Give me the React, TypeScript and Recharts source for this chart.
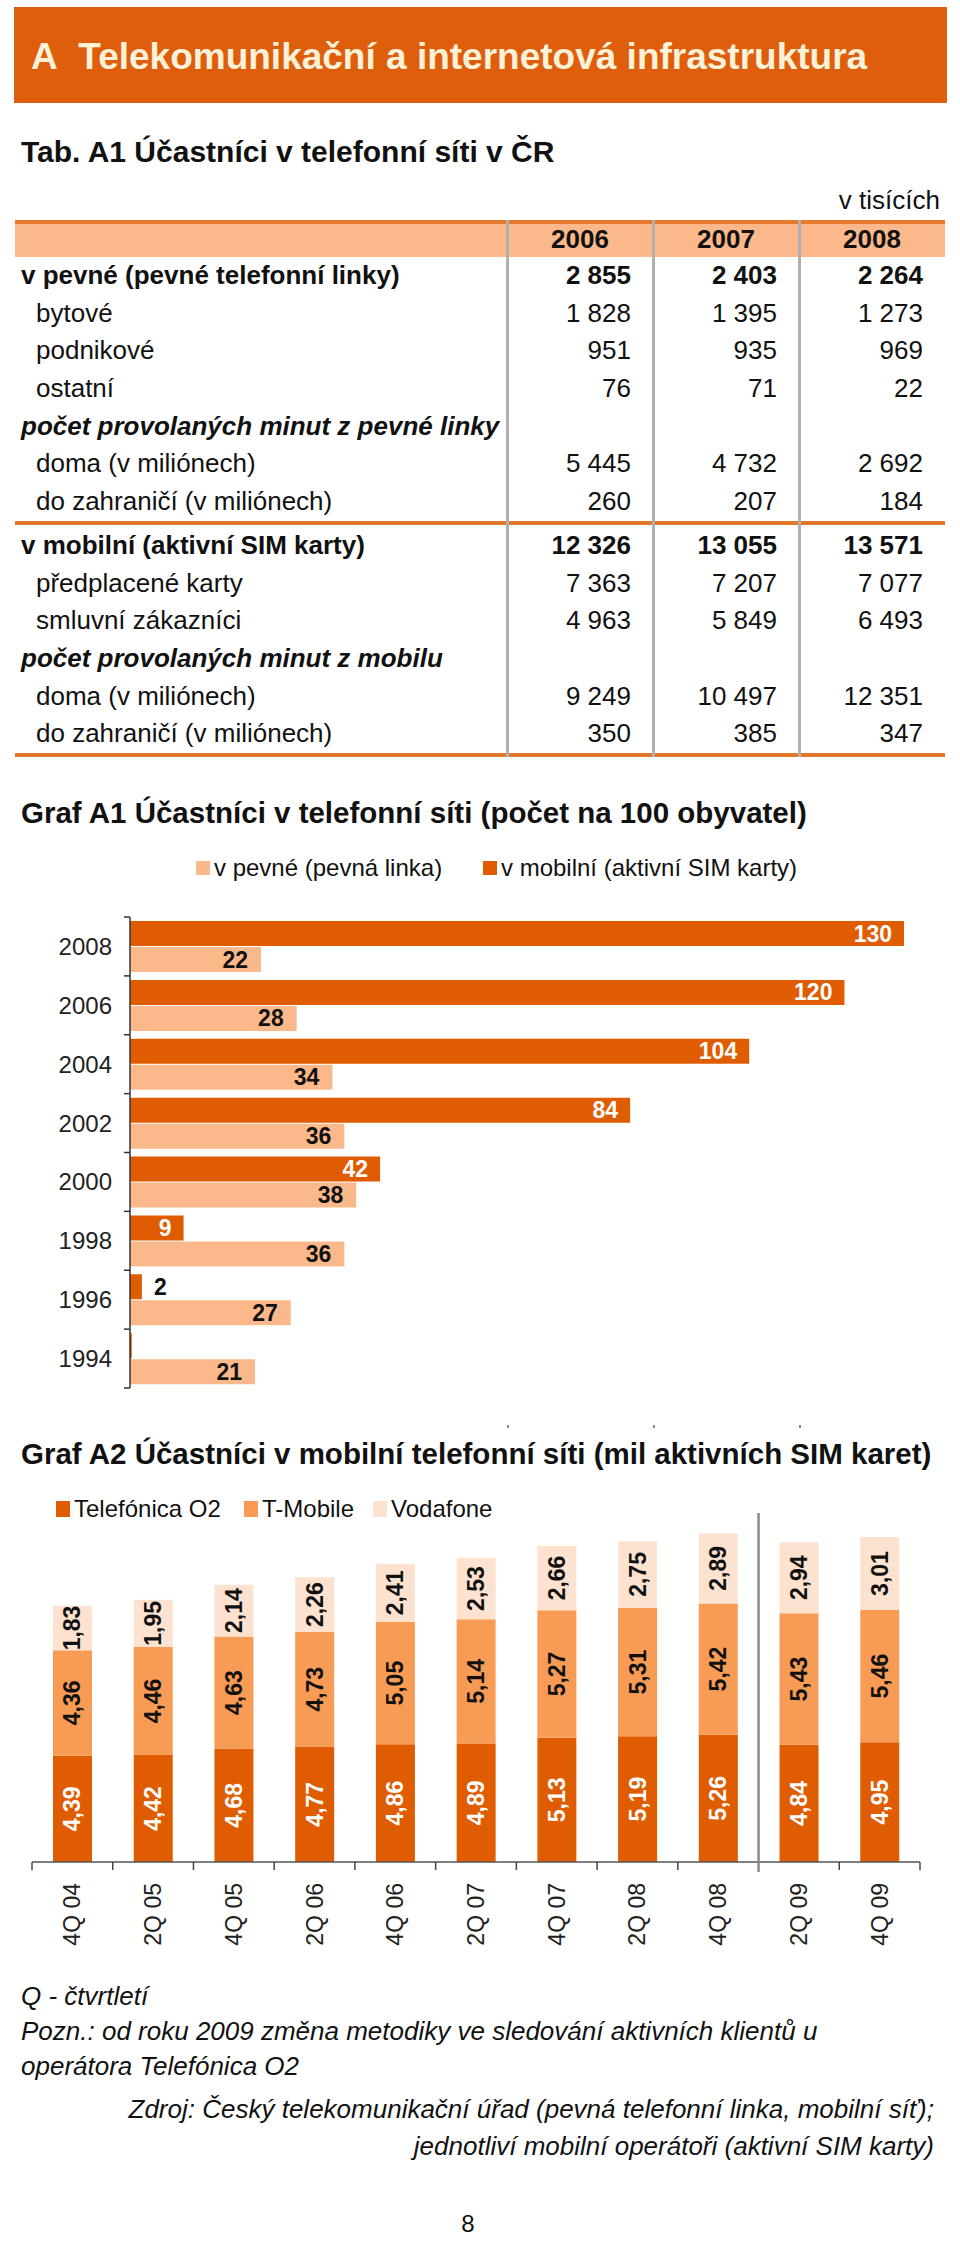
import React from "react";
import { Bar, BarChart, LabelList, XAxis, YAxis } from "recharts";

// Tab. A1 (v tisících)
const tableYears = ["2006", "2007", "2008"];
const fixedRowLabels = [
  "v pevné (pevné telefonní linky)",
  "bytové",
  "podnikové",
  "ostatní",
  "počet provolaných minut z pevné linky",
  "doma (v miliónech)",
  "do zahraničí (v miliónech)",
];
const fixedRowKinds = ["main", "sub", "sub", "sub", "group", "sub", "sub"];
const fixed2006 = ["2 855", "1 828", "951", "76", "", "5 445", "260"];
const fixed2007 = ["2 403", "1 395", "935", "71", "", "4 732", "207"];
const fixed2008 = ["2 264", "1 273", "969", "22", "", "2 692", "184"];

const mobileRowLabels = [
  "v mobilní (aktivní SIM karty)",
  "předplacené karty",
  "smluvní zákazníci",
  "počet provolaných minut z mobilu",
  "doma (v miliónech)",
  "do zahraničí (v miliónech)",
];
const mobileRowKinds = ["main", "sub", "sub", "group", "sub", "sub"];
const mobile2006 = ["12 326", "7 363", "4 963", "", "9 249", "350"];
const mobile2007 = ["13 055", "7 207", "5 849", "", "10 497", "385"];
const mobile2008 = ["13 571", "7 077", "6 493", "", "12 351", "347"];

// Graf A1 (počet na 100 obyvatel)
const a1Years = ["2008", "2006", "2004", "2002", "2000", "1998", "1996", "1994"];
const a1Mobile = [130, 120, 104, 84, 42, 9, 2, 0.3];
const a1Fixed = [22, 28, 34, 36, 38, 36, 27, 21];
const a1SeriesNames = ["v pevné (pevná linka)", "v mobilní (aktivní SIM karty)"];

// Graf A2 (mil aktivních SIM karet)
const a2Quarters = ["4Q 04", "2Q 05", "4Q 05", "2Q 06", "4Q 06", "2Q 07", "4Q 07", "2Q 08", "4Q 08", "2Q 09", "4Q 09"];
const a2O2 = [4.39, 4.42, 4.68, 4.77, 4.86, 4.89, 5.13, 5.19, 5.26, 4.84, 4.95];
const a2TMobile = [4.36, 4.46, 4.63, 4.73, 5.05, 5.14, 5.27, 5.31, 5.42, 5.43, 5.46];
const a2Vodafone = [1.83, 1.95, 2.14, 2.26, 2.41, 2.53, 2.66, 2.75, 2.89, 2.94, 3.01];
const a2SeriesNames = ["Telefónica O2", "T-Mobile", "Vodafone"];

const notes = [
  "Q - čtvrtletí",
  "Pozn.: od roku 2009 změna metodiky ve sledování aktivních klientů u",
  "operátora Telefónica O2",
];
const sources = [
  "Zdroj: Český telekomunikační úřad (pevná telefonní linka, mobilní síť);",
  "jednotliví mobilní operátoři (aktivní SIM karty)",
];

const DARK = "#e05c00";
const FIXED = "#fbb98b";
const TMOB = "#f89b55";
const VODA = "#fde2d0";
const FONT = "Arial, 'Liberation Sans', sans-serif";

const a1Data = a1Years.map((year, i) => ({ year, mobile: a1Mobile[i], fixed: a1Fixed[i] }));
const a2Data = a2Quarters.map((q, i) => ({ q, o2: a2O2[i], tmobile: a2TMobile[i], vodafone: a2Vodafone[i] }));

const fmt = (v: number) => v.toFixed(2).replace(".", ",");

type TxtProps = {
  x: number;
  y: number;
  size: number;
  bold?: boolean;
  italic?: boolean;
  align?: "left" | "right" | "center";
  color?: string;
  children: React.ReactNode;
};

function Txt({ x, y, size, bold, italic, align = "left", color = "#111", children }: TxtProps) {
  const style: React.CSSProperties = {
    position: "absolute",
    top: y,
    transform: align === "center" ? "translate(-50%, -50%)" : "translateY(-50%)",
    fontSize: size,
    fontWeight: bold ? 700 : 400,
    fontStyle: italic ? "italic" : "normal",
    color,
    whiteSpace: "nowrap",
    lineHeight: 1.15,
  };
  if (align === "right") style.right = 960 - x;
  else style.left = x;
  return <div style={style}>{children}</div>;
}

const colLeft = [507, 653, 799];
const colRight = [653, 799, 945];
const rowH = 37.7;

function TableSection({ top, labels, kinds, cols }: { top: number; labels: string[]; kinds: string[]; cols: string[][] }) {
  return (
    <>
      {labels.map((label, i) => {
        const cy = top + i * rowH + rowH / 2;
        const kind = kinds[i];
        return (
          <React.Fragment key={label + i}>
            <Txt x={kind === "sub" ? 36 : 21} y={cy} size={26} bold={kind !== "sub"} italic={kind === "group"}>
              {label}
            </Txt>
            {cols.map((col, c) =>
              col[i] ? (
                <Txt key={c} x={colRight[c] - 22} y={cy} size={26} bold={kind === "main"} align="right">
                  {col[i]}
                </Txt>
              ) : null
            )}
          </React.Fragment>
        );
      })}
    </>
  );
}

const a1Band = 471 / a1Years.length;

function A1Tick(props: any) {
  const { x, y, payload, index } = props;
  return (
    <g>
      <text x={x - 18} y={y} textAnchor="end" dominantBaseline="central" fontSize={24} fill="#222" fontFamily={FONT}>
        {payload.value}
      </text>
      <line x1={x - 6} x2={x} y1={y - a1Band / 2} y2={y - a1Band / 2} stroke="#333" strokeWidth={1.5} />
      {index === a1Years.length - 1 && (
        <line x1={x - 6} x2={x} y1={y + a1Band / 2} y2={y + a1Band / 2} stroke="#333" strokeWidth={1.5} />
      )}
    </g>
  );
}

function A1MobileLabel(props: any) {
  const { x, y, width, height, value } = props;
  if (value < 1) return null;
  const inside = value >= 5;
  return (
    <text
      x={inside ? x + width - 12 : x + width + 12}
      y={y + height / 2}
      textAnchor={inside ? "end" : "start"}
      dominantBaseline="central"
      fontSize={23}
      fontWeight={700}
      fill={inside ? "#fff" : "#111"}
      fontFamily={FONT}
    >
      {value}
    </text>
  );
}

function A1FixedLabel(props: any) {
  const { x, y, width, height, value } = props;
  return (
    <text x={x + width - 13} y={y + height / 2} textAnchor="end" dominantBaseline="central" fontSize={23} fontWeight={700} fill="#111" fontFamily={FONT}>
      {value}
    </text>
  );
}

const a2Band = 888 / a2Quarters.length;

function A2Tick(props: any) {
  const { x, y, payload, index } = props;
  return (
    <g>
      <text
        x={x}
        y={y + 21}
        transform={`rotate(-90 ${x} ${y + 21})`}
        textAnchor="end"
        dominantBaseline="central"
        fontSize={23}
        fill="#222"
        fontFamily={FONT}
      >
        {payload.value}
      </text>
      {index === 9 ? (
        <line x1={x - a2Band / 2} x2={x - a2Band / 2} y1={y - 349} y2={y + 10} stroke="#8a8a8a" strokeWidth={2.5} />
      ) : (
        <line x1={x - a2Band / 2} x2={x - a2Band / 2} y1={y} y2={y + 8} stroke="#444" strokeWidth={1.5} />
      )}
      {index === a2Quarters.length - 1 && (
        <line x1={x + a2Band / 2} x2={x + a2Band / 2} y1={y} y2={y + 8} stroke="#444" strokeWidth={1.5} />
      )}
    </g>
  );
}

const makeA2Label = (color: string) => (props: any) => {
  const { x, y, width, height, value } = props;
  const cx = x + width / 2;
  const cy = y + height / 2;
  return (
    <text
      x={cx}
      y={cy}
      transform={`rotate(-90 ${cx} ${cy})`}
      textAnchor="middle"
      dominantBaseline="central"
      fontSize={23}
      fontWeight={700}
      fill={color}
      fontFamily={FONT}
    >
      {fmt(value)}
    </text>
  );
};

function LegendItem({ x, y, color, label, w = 14, h = 14 }: { x: number; y: number; color: string; label: string; w?: number; h?: number }) {
  return (
    <>
      <div style={{ position: "absolute", left: x, top: y - h / 2, width: w, height: h, background: color }} />
      <Txt x={x + w + 4} y={y} size={24} color="#111">
        {label}
      </Txt>
    </>
  );
}

export default function App() {
  return (
    <div style={{ position: "absolute", left: 0, top: 0, width: 960, height: 2242, background: "#fff", fontFamily: FONT, overflow: "hidden" }}>
      {/* header band */}
      <div style={{ position: "absolute", left: 14, top: 7, width: 933, height: 96, background: "#df5e0e" }} />
      <Txt x={31} y={57} size={37} bold color="#fdf1d8">
        A&nbsp;&nbsp;Telekomunikační a internetová infrastruktura
      </Txt>

      {/* table */}
      <Txt x={21} y={152} size={30} bold>
        Tab. A1 Účastníci v telefonní síti v ČR
      </Txt>
      <Txt x={940} y={201} size={26} align="right">
        v tisících
      </Txt>
      <div style={{ position: "absolute", left: 15, top: 220, width: 930, height: 4, background: "#e77a2d" }} />
      <div style={{ position: "absolute", left: 15, top: 224, width: 930, height: 33, background: FIXED }} />
      {tableYears.map((yr, c) => (
        <Txt key={yr} x={(colLeft[c] + colRight[c]) / 2} y={240} size={26} bold align="center">
          {yr}
        </Txt>
      ))}
      <TableSection top={257} labels={fixedRowLabels} kinds={fixedRowKinds} cols={[fixed2006, fixed2007, fixed2008]} />
      <div style={{ position: "absolute", left: 15, top: 521, width: 930, height: 4, background: "#e2782a" }} />
      <TableSection top={527} labels={mobileRowLabels} kinds={mobileRowKinds} cols={[mobile2006, mobile2007, mobile2008]} />
      <div style={{ position: "absolute", left: 15, top: 753, width: 930, height: 4, background: "#e2782a" }} />
      {colLeft.map((x) => (
        <div key={x} style={{ position: "absolute", left: x - 1, top: 220, width: 3, height: 537, background: "#b0b0b0" }} />
      ))}

      {/* Graf A1 */}
      <Txt x={21} y={813} size={29.5} bold>
        Graf A1 Účastníci v telefonní síti (počet na 100 obyvatel)
      </Txt>
      <LegendItem x={196} y={868} color={FIXED} label={a1SeriesNames[0]} />
      <LegendItem x={483} y={868} color={DARK} label={a1SeriesNames[1]} />
      <div style={{ position: "absolute", left: 0, top: 900 }}>
        <BarChart
          width={960}
          height={500}
          data={a1Data}
          layout="vertical"
          margin={{ top: 17, right: 56, bottom: 12, left: 0 }}
          barSize={25}
          barGap={1}
        >
          <XAxis type="number" domain={[0, 130]} hide />
          <YAxis
            type="category"
            dataKey="year"
            width={130}
            interval={0}
            tickLine={false}
            tickSize={0}
            tickMargin={0}
            axisLine={{ stroke: "#333", strokeWidth: 1.5 }}
            tick={<A1Tick />}
          />
          <Bar dataKey="mobile" fill={DARK} isAnimationActive={false}>
            <LabelList dataKey="mobile" content={A1MobileLabel} />
          </Bar>
          <Bar dataKey="fixed" fill={FIXED} isAnimationActive={false}>
            <LabelList dataKey="fixed" content={A1FixedLabel} />
          </Bar>
        </BarChart>
      </div>
      {colLeft.map((x) => (
        <div key={"m" + x} style={{ position: "absolute", left: x, top: 1425, width: 2, height: 3, background: "#888" }} />
      ))}

      {/* Graf A2 */}
      <Txt x={21} y={1454} size={29.5} bold>
        Graf A2 Účastníci v mobilní telefonní síti (mil aktivních SIM karet)
      </Txt>
      <LegendItem x={56} y={1509} color={DARK} label={a2SeriesNames[0]} h={16} />
      <LegendItem x={244} y={1509} color={TMOB} label={a2SeriesNames[1]} h={16} />
      <LegendItem x={373} y={1509} color={VODA} label={a2SeriesNames[2]} h={16} />
      <div style={{ position: "absolute", left: 0, top: 1500 }}>
        <BarChart width={960} height={500} data={a2Data} margin={{ top: 23, right: 40, bottom: 38, left: 32 }} barSize={39}>
          <XAxis
            dataKey="q"
            height={100}
            interval={0}
            tickLine={false}
            tickSize={0}
            tickMargin={0}
            axisLine={{ stroke: "#555", strokeWidth: 1.5 }}
            tick={<A2Tick />}
          />
          <YAxis hide domain={[0, 14]} />
          <Bar dataKey="o2" stackId="s" fill={DARK} isAnimationActive={false}>
            <LabelList dataKey="o2" content={makeA2Label("#fff")} />
          </Bar>
          <Bar dataKey="tmobile" stackId="s" fill={TMOB} isAnimationActive={false}>
            <LabelList dataKey="tmobile" content={makeA2Label("#111")} />
          </Bar>
          <Bar dataKey="vodafone" stackId="s" fill={VODA} isAnimationActive={false}>
            <LabelList dataKey="vodafone" content={makeA2Label("#111")} />
          </Bar>
        </BarChart>
      </div>

      {/* notes */}
      {notes.map((n, i) => (
        <Txt key={n} x={21} y={1997 + i * 35} size={26} italic color="#111">
          {n}
        </Txt>
      ))}
      {sources.map((s, i) => (
        <Txt key={s} x={934} y={2110 + i * 37} size={26} italic align="right" color="#111">
          {s}
        </Txt>
      ))}
      <Txt x={468} y={2224} size={24} align="center">
        8
      </Txt>
    </div>
  );
}
